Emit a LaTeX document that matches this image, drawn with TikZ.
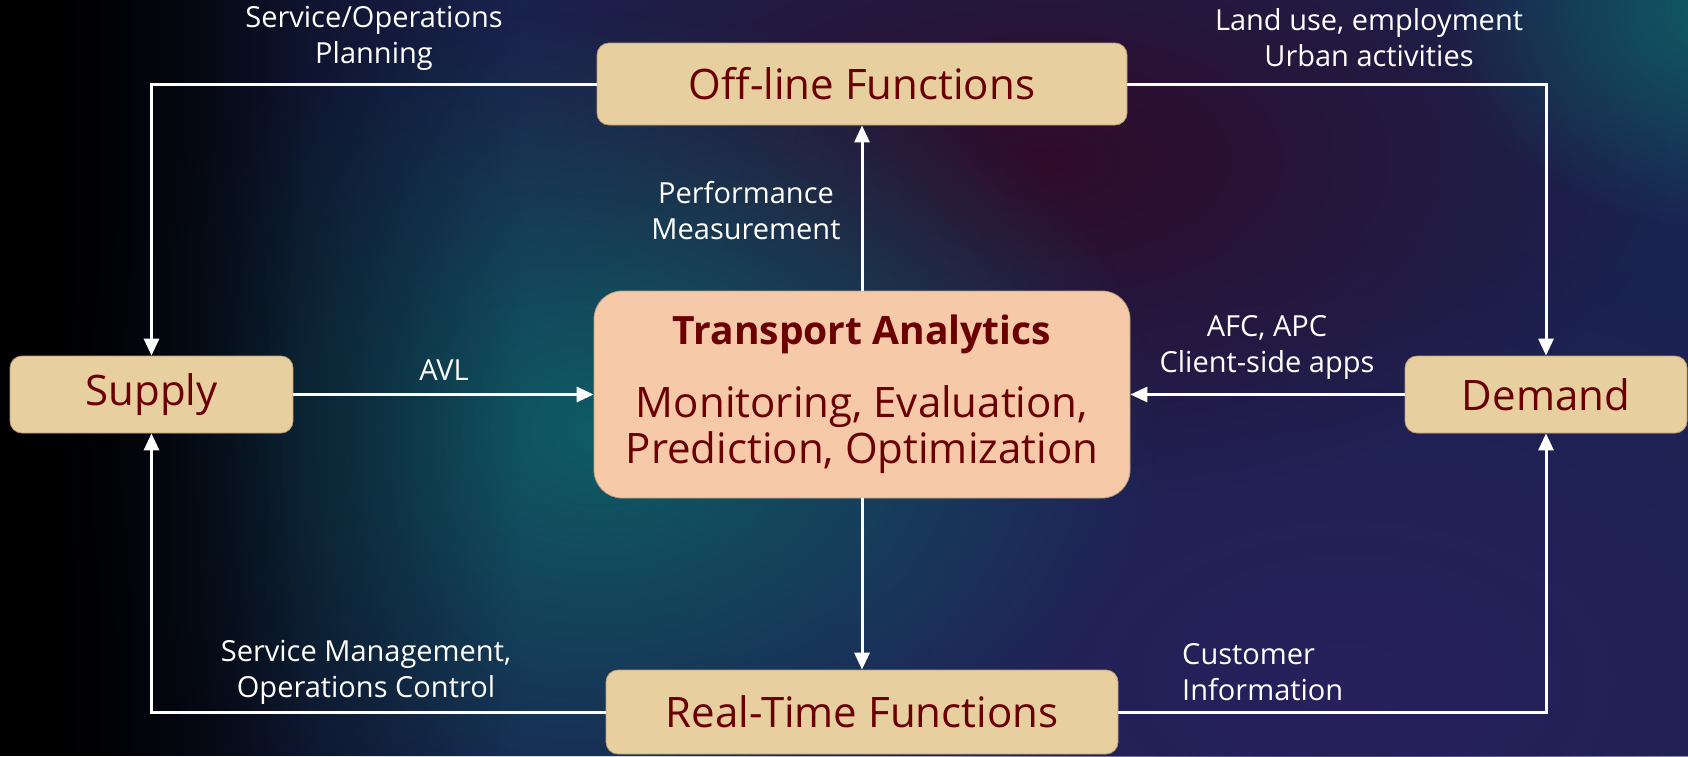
\documentclass[tikz,border=0pt]{standalone}
\usepackage{fontspec}
\setmainfont{Open Sans}
\usetikzlibrary{arrows.meta,fadings}

\definecolor{boxtan}{HTML}{E8CFA0}
\definecolor{boxpeach}{HTML}{F6C9A9}
\definecolor{boxedge}{HTML}{B89E78}
\definecolor{inkred}{HTML}{6B0000}
\definecolor{bgnavy}{HTML}{1A2350}
\definecolor{bgteal}{HTML}{0F5C64}
\definecolor{bgplum}{HTML}{300B2A}
\definecolor{bgindigo}{HTML}{28205C}

\tikzfading[name=glow, inner color=transparent!0, outer color=transparent!100]
\tikzfading[name=leftdark, left color=transparent!0, right color=transparent!100]

\tikzset{
  unitbox/.style={draw=boxedge, line width=0.8pt, fill=boxtan, rounded corners=12pt,
    text=inkred, font=\fontsize{42}{48}\selectfont, inner sep=0pt},
  hubbox/.style={draw=boxedge, line width=0.8pt, fill=boxpeach, rounded corners=28pt,
    text=inkred, align=center, inner sep=0pt, font=\fontsize{42}{46}\selectfont},
  flow/.style={draw=white, line width=3pt,
    -{Triangle[length=17pt,width=15pt]}},
  tag/.style={text=white, font=\fontsize{29}{36}\selectfont, align=center, inner sep=0pt}
}

\begin{document}
\begin{tikzpicture}[x=1pt, y=-1pt]
  \useasboundingbox (0,0) rectangle (1688,756);
  % backdrop: dark navy base with coloured glows
  \begin{scope}
    \clip (0,0) rectangle (1688,756);
    \fill[bgnavy] (0,0) rectangle (1688,756);
    \fill[bgindigo, path fading=glow] (1350,680) ellipse (720 and 440);
    \fill[bgplum, path fading=glow] (1050,160) ellipse (620 and 340);
    \fill[bgteal, path fading=glow] (600,430) ellipse (560 and 420);
    \fill[bgteal, path fading=glow] (1720,10) ellipse (280 and 220);
    \fill[black, path fading=leftdark] (0,0) rectangle (520,756);
    \fill[black, path fading=leftdark] (0,0) rectangle (300,756);
  \end{scope}

  % boxes
  \node[unitbox, minimum width=530pt, minimum height=82pt] (off) at (862,84) {Off-line Functions};
  \node[unitbox, minimum width=512pt, minimum height=84pt] (rt) at (862,712) {Real-Time Functions};
  \node[unitbox, minimum width=283pt, minimum height=77pt] (sup) at (151.5,394.5) {Supply};
  \node[unitbox, minimum width=282pt, minimum height=77pt] (dem) at (1546,394.5) {Demand};
  \node[hubbox, minimum width=536pt, minimum height=207pt] (ta) at (862,394.5)
    {{\bfseries\fontsize{39}{46}\selectfont Transport Analytics}\\[27pt]
     Monitoring, Evaluation,\\ Prediction, Optimization};

  % corner turns of the loop lines
  \coordinate (tl) at (sup.center |- off.west);
  \coordinate (tr) at (dem.center |- off.east);
  \coordinate (bl) at (sup.center |- rt.west);
  \coordinate (br) at (dem.center |- rt.east);

  % connectors
  \draw[flow] (off.west) -- (tl) -- (sup.north);
  \draw[flow] (off.east) -- (tr) -- (dem.north);
  \draw[flow] (rt.west) -- (bl) -- (sup.south);
  \draw[flow] (rt.east) -- (br) -- (dem.south);
  \draw[flow] (sup.east) -- (ta.west);
  \draw[flow] (dem.west) -- (ta.east);
  \draw[flow] (ta.north) -- (off.south);
  \draw[flow] (ta.south) -- (rt.north);

  % connector labels
  \node[tag] (l1) at (374,38) {Service/Operations\\Planning};
  \node[tag] (l2) at (1369,38) {Land use, employment\\Urban activities};
  \node[tag] (l3) at (746,211) {Performance\\Measurement};
  \node[tag] (l4) at (444,370) {AVL};
  \node[tag] (l5) at (1267,347) {AFC, APC\\Client-side apps};
  \node[tag] (l6) at (366,672) {Service Management,\\Operations Control};
  \node[tag, align=left, anchor=west] (l7) at (1182,672) {Customer\\Information};
\end{tikzpicture}
\end{document}
